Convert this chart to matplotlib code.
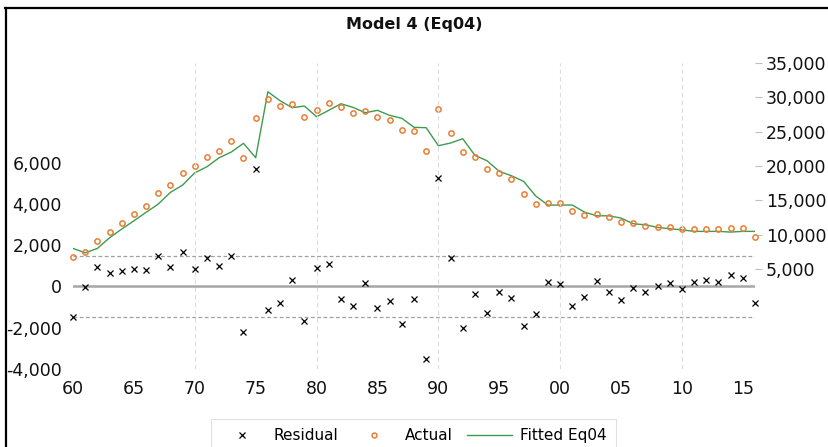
import matplotlib
matplotlib.use("Agg")
import matplotlib.pyplot as plt
from matplotlib.lines import Line2D
from matplotlib.ticker import FuncFormatter

plt.rcParams['font.family'] = ['DejaVu Sans']

years = list(range(1960, 2017))

actual = [6800, 7430, 9080, 10340, 11660, 13010, 14220, 16020, 17190, 19020,
          19960, 21350, 22230, 23640, 21160, 26990, 29800, 28740, 28980, 27180,
          28110, 29220, 28540, 27720, 28050, 27180, 26700, 25240, 25140, 22180,
          28300, 24800, 22080, 21270, 19560, 18980, 18150, 15880, 14420, 14570,
          14570, 13490, 12860, 13050, 12620, 11800, 11650, 11220, 11120, 11120,
          10780, 10780, 10820, 10780, 10970, 10970, 9700]

fitted = [8010, 7370, 8010, 9560, 10830, 12030, 13260, 14470, 16170, 17230,
          19020, 19900, 21210, 22040, 23310, 21210, 30820, 29510, 28490, 28740,
          27180, 28110, 29070, 28540, 27760, 28110, 27380, 26950, 25640, 25580,
          22960, 23350, 23980, 21560, 20770, 19230, 18590, 17770, 15630, 14320,
          14320, 14320, 13300, 12760, 12760, 12430, 11600, 11450, 11070, 10870,
          10720, 10490, 10490, 10490, 10390, 10490, 10490]

residual = [-1500, -40, 940, 670, 730, 860, 800, 1460, 960, 1680,
            850, 1390, 1000, 1470, -2210, 5710, -1150, -810, 330, -1670,
            880, 1070, -620, -970, 180, -1060, -730, -1810, -620, -3520,
            5230, 1390, -2020, -360, -1280, -270, -540, -1940, -1330, 230,
            110, -930, -520, 270, -280, -670, -60, -270, 40, 160,
            -110, 230, 310, 200, 560, 430, -810]

resid_sd = 1490

xtick_years = [1960, 1965, 1970, 1975, 1980, 1985, 1990, 1995, 2000, 2005, 2010, 2015]
xtick_labels = ['60', '65', '70', '75', '80', '85', '90', '95', '00', '05', '10', '15']
left_ticks = [-4000, -2000, 0, 2000, 4000, 6000]
right_ticks = [5000, 10000, 15000, 20000, 25000, 30000, 35000]
grid_years = [1970, 1980, 1990, 2000, 2010]

W, H = 829, 447
fig = plt.figure(figsize=(W / 100, H / 100), dpi=100)
ax = fig.add_axes([73 / W, 1 - 369 / H, 682 / W, 306 / H])
ax2 = ax.twinx()

orange = '#E97E35'
green = '#3E9B4F'

# grid
for gy in grid_years:
    ax.axvline(gy, color='#dcdcdc', lw=0.8, ls=(0, (4, 3)), zorder=0)

ax.axhline(0, color='#a6a6a6', lw=1.8, zorder=1)
ax.axhline(resid_sd, color='#a0a0a0', lw=0.9, ls=(0, (3, 2)), zorder=1)
ax.axhline(-resid_sd, color='#a0a0a0', lw=0.9, ls=(0, (3, 2)), zorder=1)

ax.plot(years, residual, ls='none', marker='x', ms=4.6, mew=0.9, color='black',
        clip_on=False, zorder=5)
ax2.plot(years, fitted, color=green, lw=1.0, zorder=3)
ax2.plot(years, actual, ls='none', marker='o', ms=3.8, mew=1.1,
         mfc='none', mec=orange, clip_on=False, zorder=4)

ax.set_xlim(1960, 2016)
ax.set_ylim(-3960, 10820)
ax2.set_ylim(-9540, 35000)

fmt = FuncFormatter(lambda v, p: f"{int(v):,}")
ax.set_yticks(left_ticks)
ax.yaxis.set_major_formatter(fmt)
ax2.set_yticks(right_ticks)
ax2.yaxis.set_major_formatter(fmt)
ax.set_xticks(xtick_years)
ax.set_xticklabels(xtick_labels)

ax.tick_params(axis='y', length=0, pad=8, labelsize=12.5, labelcolor='#111111')
ax.tick_params(axis='x', length=0, pad=8, labelsize=12.5, labelcolor='#111111')
ax2.tick_params(axis='y', length=5, width=0.8, color='#bfbfbf', pad=3,
                labelsize=12.5, labelcolor='#111111')

for a in (ax, ax2):
    for s in a.spines.values():
        s.set_visible(False)
ax.set_zorder(ax2.get_zorder() + 1)
ax.patch.set_visible(False)

fig.text(414 / W, 1 - 24 / H, 'Model 4 (Eq04)', ha='center', va='center',
         fontsize=11.5, fontweight='bold', color='#111111')

# figure border (top and left)
fig.add_artist(Line2D([5 / W, 1], [1 - 8 / H, 1 - 8 / H], color='black', lw=1.6,
                      transform=fig.transFigure))
fig.add_artist(Line2D([6 / W, 6 / W], [0, 1 - 8 / H], color='black', lw=1.6,
                      transform=fig.transFigure))

handles = [
    Line2D([], [], ls='none', marker='x', ms=4.6, mew=0.9, color='black'),
    Line2D([], [], ls='none', marker='o', ms=3.5, mew=1.1, mfc='none', mec=orange),
    Line2D([], [], color=green, lw=1.0),
]
leg = fig.legend(handles, ['Residual', 'Actual', 'Fitted Eq04'], ncol=3,
                 loc='upper center', bbox_to_anchor=(413.5 / W, 1 - 419 / H),
                 fontsize=11, frameon=True, fancybox=False, edgecolor='#d9d9d9',
                 handlelength=2.9, handletextpad=0.55, columnspacing=0.95,
                 borderpad=0.6, borderaxespad=0)
leg.get_frame().set_linewidth(0.8)

fig.savefig('out.png', dpi=100)
